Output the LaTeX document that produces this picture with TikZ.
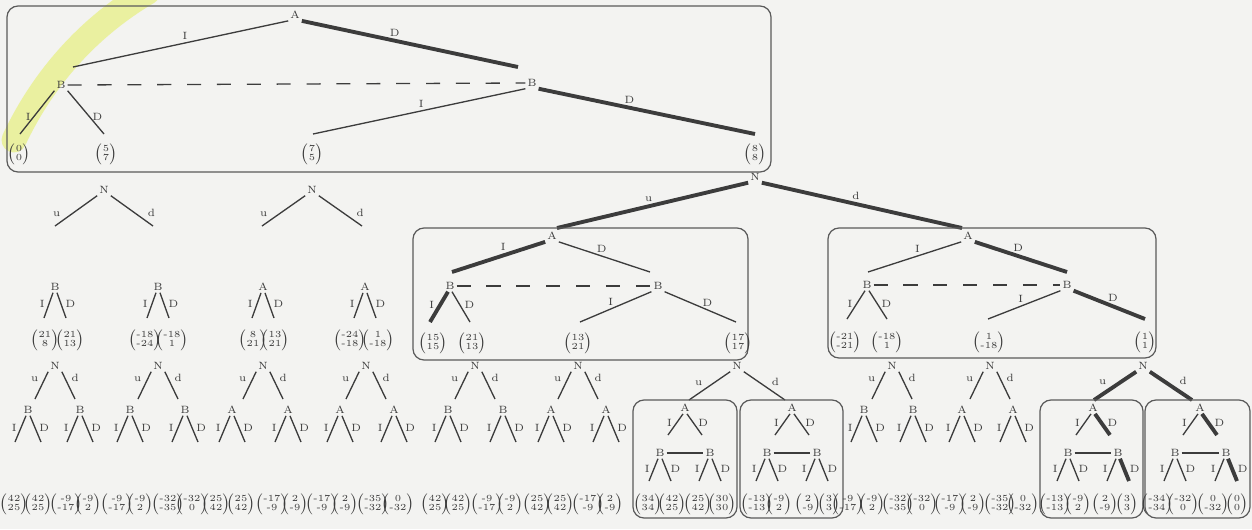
\documentclass[tikz,border=0pt]{standalone}
\usetikzlibrary{calc}
\definecolor{ink}{RGB}{60,60,60}
\definecolor{boxc}{RGB}{90,90,90}
\definecolor{bg}{RGB}{243,243,241}
\definecolor{hl}{RGB}{232,240,140}
\tikzset{
 lab/.style={font=\fontsize{6}{7}\selectfont, inner sep=1pt, text=ink},
 el/.style={font=\fontsize{6}{7}\selectfont, inner sep=1.5pt, text=ink},
 sel/.style={font=\fontsize{6}{7}\selectfont, inner sep=2.2pt, text=ink},
 thn/.style={draw=ink, line width=0.75pt},
 thk/.style={draw=ink, line width=2.2pt},
 infoset/.style={draw=ink, line width=0.75pt, dash pattern=on 8pt off 9pt},
 gbox/.style={draw=boxc, line width=0.7pt, rounded corners=0.22cm},
 leaf/.style={inner sep=0pt, text=ink},
}
\newcommand\pv[2]{\fontsize{5.3}{5.6}\selectfont$\left(\vcenter{\hbox{\begin{tabular}{@{}c@{}}#1\\#2\end{tabular}}}\right)$}
% small tree: name, x, y, letter, left style, right style, dx, dy
\newcommand\stree[8]{%
 \node[lab] (#1) at (#2,#3) {#4};
 \coordinate (#1-l) at ({#2-#7},{#3+#8});
 \coordinate (#1-r) at ({#2+#7},{#3+#8});
 \draw[#5] ([xshift=-0.04cm]#1.south) -- (#1-l) node[sel,pos=.45,left]{I};
 \draw[#6] ([xshift=0.04cm]#1.south) -- (#1-r) node[sel,pos=.45,right]{D};
}
% nature node: name, x, y, dx, dy, u style, d style, label pos
\newcommand\ntree[8]{%
 \node[lab] (#1) at (#2,#3) {N};
 \coordinate (#1-u) at ({#2-#4},{#3+#5});
 \coordinate (#1-d) at ({#2+#4},{#3+#5});
 \draw[#6] (#1.south west) -- (#1-u) node[el,pos=#8,above left]{u};
 \draw[#7] (#1.south east) -- (#1-d) node[el,pos=#8,above right]{d};
}
\begin{document}
\begin{tikzpicture}[x=0.02cm,y=-0.02cm]
\fill[bg] (0,0) rectangle (1252,529);
\useasboundingbox (0,0) rectangle (1252,529);
\draw[hl, line width=0.5cm, opacity=0.8, line cap=round] (14,140) .. controls (35,95) and (75,35) .. (148,-8);

% ---------- top box ----------
\draw[gbox] (7,6) rectangle (771,172);
\node[lab] (A0) at (295,15) {A};
\node[lab] (B1) at (61,85) {B};
\node[lab] (B2) at (532,83) {B};
\coordinate (A0l) at (73,67);
\coordinate (A0r) at (518,67);
\draw[thn] (A0.south west) -- (A0l) node[el,pos=.48,above]{I};
\draw[thk] (A0.south east) -- (A0r) node[el,pos=.43,above]{D};
\draw[infoset] (B1.east) -- (B2.west);
\node[leaf] (T1) at (19,154) {\pv{0}{0}};
\node[leaf] (T2) at (106,154) {\pv{5}{7}};
\node[leaf] (T3) at (312,154) {\pv{7}{5}};
\node[leaf] (T4) at (755,154) {\pv{8}{8}};
\coordinate (B1l) at (20,134);
\coordinate (B1r) at (104,134);
\coordinate (B2l) at (313,134);
\coordinate (B2r) at (755,134);
\draw[thn] (B1.south west) -- (B1l) node[el,pos=.6,left]{I};
\draw[thn] (B1.south east) -- (B1r) node[el,pos=.6,right]{D};
\draw[thn] (B2.south west) -- (B2l) node[el,pos=.49,above]{I};
\draw[thk] (B2.south east) -- (B2r) node[el,pos=.42,above]{D};

% ---------- N below top box ----------
\node[lab] (N0) at (755,177) {N};
\coordinate (N0u) at (557,228);
\coordinate (N0d) at (962,228);
\draw[thk] (N0.south west) -- (N0u) node[el,pos=.52,above]{u};
\draw[thk] (N0.south east) -- (N0d) node[el,pos=.47,above]{d};

\ntree{N1}{104}{190}{49}{36}{thn}{thn}{.8}
\ntree{N2}{312}{190}{50}{36}{thn}{thn}{.8}

% row 2 small trees
\stree{R1}{55}{287}{B}{thn}{thn}{11}{31}
\stree{R2}{158}{287}{B}{thn}{thn}{11}{31}
\stree{R3}{263}{287}{A}{thn}{thn}{11}{31}
\stree{R4}{365}{287}{A}{thn}{thn}{11}{31}
\foreach \x/\a/\b [count=\i] in {45/21/8, 70/21/13, 145/-18/-24, 172/-18/1, 253/8/21, 275/13/21, 350/-24/-18, 378/1/-18}
 \node[leaf] (rl\i) at (\x,340) {\pv{\a}{\b}};

% ---------- middle box ----------
\draw[gbox] (413,228) rectangle (748,360);
\node[lab] (A1) at (552,236) {A};
\coordinate (A1l) at (452,272);
\coordinate (A1r) at (650,272);
\draw[thk] (A1.south west) -- (A1l) node[el,pos=.45,above]{I};
\draw[thn] (A1.south east) -- (A1r) node[el,pos=.47,above]{D};
\stree{B3}{450}{286}{B}{thk}{thn}{20}{36}
\node[lab] (B4) at (658,286) {B};
\draw[infoset] (B3.east) -- (B4.west);
\coordinate (B4l) at (580,322);
\coordinate (B4r) at (736,322);
\draw[thn] (B4.south west) -- (B4l) node[el,pos=.57,above]{I};
\draw[thn] (B4.south east) -- (B4r) node[el,pos=.6,above]{D};
\node[leaf] (M1) at (433,343) {\pv{15}{15}};
\node[leaf] (M2) at (472,343) {\pv{21}{13}};
\node[leaf] (M3) at (578,343) {\pv{13}{21}};
\node[leaf] (M4) at (738,343) {\pv{17}{17}};

% ---------- right box ----------
\draw[gbox] (828,228) rectangle (1156,358);
\node[lab] (A2) at (968,236) {A};
\coordinate (A2l) at (868,272);
\coordinate (A2r) at (1067,272);
\draw[thn] (A2.south west) -- (A2l) node[el,pos=.47,above]{I};
\draw[thk] (A2.south east) -- (A2r) node[el,pos=.47,above]{D};
\stree{B5}{867}{285}{B}{thn}{thn}{20}{34}
\node[lab] (B6) at (1067,285) {B};
\draw[infoset] (B5.east) -- (B6.west);
\coordinate (B6l) at (988,319);
\coordinate (B6r) at (1145,319);
\draw[thn] (B6.south west) -- (B6l) node[el,pos=.55,above]{I};
\draw[thk] (B6.south east) -- (B6r) node[el,pos=.55,above]{D};
\node[leaf] (Q1) at (845,342) {\pv{-21}{-21}};
\node[leaf] (Q2) at (887,342) {\pv{-18}{1}};
\node[leaf] (Q3) at (989,342) {\pv{1}{-18}};
\node[leaf] (Q4) at (1145,342) {\pv{1}{1}};

% ---------- row 3 nature nodes ----------
\foreach \x [count=\i] in {55,158,263,366,475,578,892,990}
 {\ntree{Nr\i}{\x}{366}{20}{33}{thn}{thn}{.5}}
\ntree{N5}{737}{366}{48}{34}{thn}{thn}{.6}
\ntree{N8}{1143}{366}{49}{34}{thk}{thk}{.6}

% row 3 small trees
\foreach \x/\c [count=\i] in {28/B,80/B,130/B,185/B,232/A,288/A,340/A,394/A,448/B,503/B,551/A,606/A,864/B,913/B,962/A,1013/A}
 {\stree{C\i}{\x}{410}{\c}{thn}{thn}{13}{32}}

% ---------- lower boxes ----------
\draw[gbox] (633,400) rectangle (737,518);
\draw[gbox] (740,400) rectangle (843,518);
\draw[gbox] (1040,400) rectangle (1143,518);
\draw[gbox] (1145,400) rectangle (1250,518);

\stree{A5}{685}{408}{A}{thn}{thn}{17}{27}
\stree{B7}{660}{453}{B}{thn}{thn}{11}{28}
\stree{B8}{710}{453}{B}{thn}{thn}{11}{28}
\draw[thn] (B7.east) -- (B8.west);

\stree{A6}{792}{408}{A}{thn}{thn}{17}{27}
\stree{B9}{767}{453}{B}{thn}{thn}{11}{28}
\stree{B10}{817}{453}{B}{thn}{thn}{11}{28}
\draw[thn] (B9.east) -- (B10.west);

\stree{A7}{1093}{408}{A}{thn}{thk}{17}{27}
\stree{B11}{1068}{453}{B}{thn}{thn}{11}{28}
\stree{B12}{1118}{453}{B}{thn}{thk}{11}{28}
\draw[thn] (B11.east) -- (B12.west);

\stree{A8}{1200}{408}{A}{thn}{thk}{17}{27}
\stree{B13}{1175}{453}{B}{thn}{thn}{11}{28}
\stree{B14}{1226}{453}{B}{thn}{thk}{11}{28}
\draw[thn] (B13.east) -- (B14.west);

% ---------- bottom leaves ----------
\foreach \x/\a/\b [count=\i] in {14/42/25, 38/42/25, 66/-9/-17, 88/-9/2, 117/-9/-17, 140/-9/2, 168/-32/-35, 192/-32/0, 216/25/42, 241/25/42, 272/-17/-9, 295/2/-9, 322/-17/-9, 345/2/-9, 373/-35/-32, 398/0/-32,
 435/42/25, 458/42/25, 487/-9/-17, 510/-9/2, 537/25/42, 560/25/42, 588/-17/-9, 610/2/-9,
 648/34/34, 672/42/25, 698/25/42, 722/30/30, 757/-13/-13, 779/-9/2, 808/2/-9, 829/3/3,
 848/-9/-17, 872/-9/2, 898/-32/-35, 922/-32/0, 950/-17/-9, 973/2/-9, 1000/-35/-32, 1023/0/-32,
 1055/-13/-13, 1078/-9/2, 1105/2/-9, 1127/3/3, 1157/-34/-34, 1183/-32/0, 1213/0/-32, 1237/0/0}
 \node[leaf] (bl\i) at (\x,504) {\pv{\a}{\b}};
\end{tikzpicture}
\end{document}
